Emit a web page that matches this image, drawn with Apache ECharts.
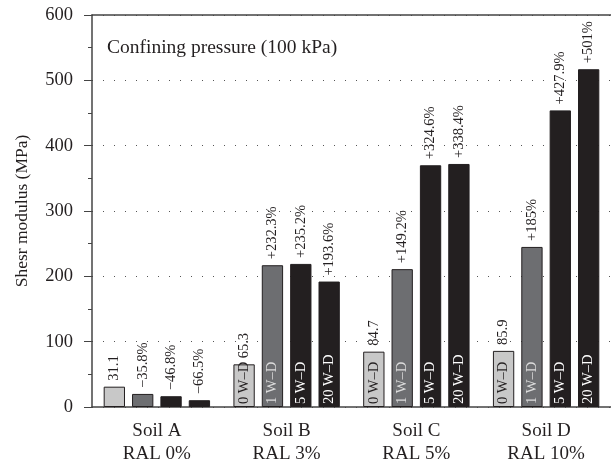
<!DOCTYPE html>
<html>
<head>
<meta charset="utf-8">
<script src="https://cdn.jsdelivr.net/npm/echarts@6/dist/echarts.min.js"></script>
<style>html,body{margin:0;padding:0;background:#fff}#c{width:611px;height:466px}</style>
</head>
<body>
<div id="c"></div>
<script>
const categories = ['Soil A\nRAL 0%', 'Soil B\nRAL 3%', 'Soil C\nRAL 5%', 'Soil D\nRAL 10%'];
const seriesNames = ['0 W–D', '1 W–D', '5 W–D', '20 W–D'];
const wd0 = [31.1, 65.3, 84.7, 85.9];
const wd1 = [20.0, 217, 211, 245];
const wd5 = [16.5, 219, 370, 454];
const wd20 = [10.4, 192, 372, 517];
const top0 = ['31.1', '65.3', '84.7', '85.9'];
const top1 = ['−35.8%', '+232.3%', '+149.2%', '+185%'];
const top5 = ['−46.8%', '+235.2%', '+324.6%', '+427.9%'];
const top20 = ['−66.5%', '+193.6%', '+338.4%', '+501%'];
const yTicks = [0, 100, 200, 300, 400, 500, 600];
const titleText = 'Confining pressure (100 kPa)';
const yName = 'Shesr modulus (MPa)';

const FONT = 'Liberation Serif';
const INK = '#231f20';
const values = [wd0, wd1, wd5, wd20];
const tops = [top0, top1, top5, top20];
const fills = ['#c8c8c8', '#6d6e71', INK, INK];
const insideColors = [INK, '#dcdcdc', '#ffffff', '#ffffff'];
const BAR_GAP = '33%';
const CAT_GAP = '18%';

const series = [];
values.forEach((vals, i) => {
  series.push({
    name: seriesNames[i], type: 'bar', xAxisIndex: 0, yAxisIndex: 0,
    barGap: BAR_GAP, barCategoryGap: CAT_GAP,
    itemStyle: {color: fills[i], borderColor: INK, borderWidth: 1},
    label: {
      show: true, position: 'top', rotate: 90, align: 'left', verticalAlign: 'middle',
      distance: 6, fontFamily: FONT, fontSize: 14.5, color: INK,
      formatter: p => tops[i][p.dataIndex]
    },
    data: vals
  });
});
values.forEach((vals, i) => {
  series.push({
    name: seriesNames[i] + ' label', type: 'bar', xAxisIndex: 1, yAxisIndex: 0,
    barGap: BAR_GAP, barCategoryGap: CAT_GAP, silent: true,
    itemStyle: {color: 'rgba(0,0,0,0)'},
    label: {
      show: true, position: 'insideBottom', rotate: 90, align: 'left', verticalAlign: 'middle',
      distance: 3, fontFamily: FONT, fontSize: 14.5, color: insideColors[i],
      formatter: p => p.dataIndex === 0 ? '' : seriesNames[i]
    },
    data: vals
  });
});

const chart = echarts.init(document.getElementById('c'), null, {renderer: 'canvas'});
chart.setOption({
  animation: false,
  backgroundColor: '#fff',
  grid: {left: 92, right: 0, top: 15, bottom: 59, containLabel: false},
  graphic: [{
    type: 'text', left: 107, top: 38,
    style: {text: titleText, font: '19.5px "Liberation Serif"', fill: INK}
  }],
  xAxis: [{
    type: 'category', data: categories, position: 'bottom',
    axisLine: {show: true, lineStyle: {color: '#444', width: 1.5}},
    axisTick: {show: false},
    axisLabel: {fontFamily: FONT, fontSize: 19, color: INK, lineHeight: 23, margin: 13}
  }, {
    type: 'category', data: categories, position: 'top',
    axisLine: {show: true, lineStyle: {color: '#444', width: 1.5}},
    axisTick: {show: false}, axisLabel: {show: false}
  }],
  yAxis: [{
    type: 'value', min: 0, max: 600, interval: 100,
    name: yName, nameLocation: 'middle', nameGap: 61,
    nameTextStyle: {fontFamily: FONT, fontSize: 17.5, color: INK},
    axisLine: {show: true, lineStyle: {color: '#444', width: 1.5}},
    axisTick: {show: true, length: 8, lineStyle: {color: '#444'}},
    minorTick: {show: true, splitNumber: 2, length: 4, lineStyle: {color: '#444'}},
    axisLabel: {fontFamily: FONT, fontSize: 18.5, color: INK, margin: 19,
      formatter: v => yTicks.includes(v) ? String(v) : ''},
    splitLine: {show: true, lineStyle: {color: '#555', width: 1, type: [1, 10]}}
  }],
  series: series
});
</script>
</body>
</html>
